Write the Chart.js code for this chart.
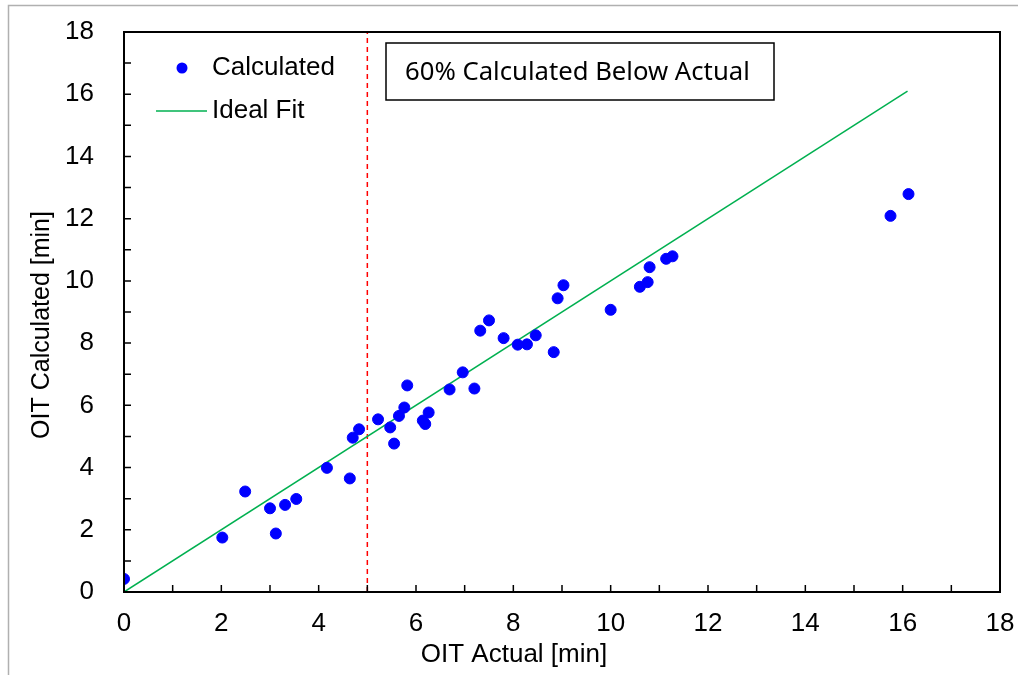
<!DOCTYPE html>
<html>
<head>
<meta charset="utf-8">
<script src="https://cdn.jsdelivr.net/npm/chart.js@4.4.1/dist/chart.umd.min.js"></script>
<style>
body{margin:0;background:#fff;}
#wrap{position:relative;width:1018px;height:675px;}
</style>
</head>
<body>
<div id="wrap"><canvas id="oitChart" width="1018" height="675"></canvas></div>
<script>
// OIT calculated vs actual

const actualMin = [0, 2.02, 2.49, 3.0, 3.12, 3.31, 3.54, 4.17, 4.64, 4.70, 4.83, 5.22, 5.47, 5.55, 5.65, 5.76, 5.82, 6.14, 6.19, 6.26, 6.69, 6.96, 7.20, 7.32, 7.50, 7.80, 8.09, 8.28, 8.46, 8.83, 8.91, 9.03, 10.0, 10.60, 10.76, 10.80, 11.14, 11.27, 15.75, 16.12];
const calculatedMin = [0.42, 1.75, 3.23, 2.69, 1.88, 2.80, 2.99, 3.99, 3.65, 4.96, 5.23, 5.55, 5.29, 4.77, 5.66, 5.93, 6.64, 5.51, 5.40, 5.77, 6.51, 7.06, 6.54, 8.40, 8.73, 8.16, 7.95, 7.96, 8.25, 7.71, 9.44, 9.86, 9.07, 9.81, 9.96, 10.44, 10.71, 10.79, 12.09, 12.79];

const fitX = [0, 16.1];
const fitY = [0, 16.1];

const cutoffX = [5, 5];
const cutoffY = [0, 18];

const axisTicks = [0, 2, 4, 6, 8, 10, 12, 14, 16, 18];
const minorTicks = [1, 3, 5, 7, 9, 11, 13, 15, 17];

const legendLabels = ["Calculated", "Ideal Fit"];
const noteText = "60% Calculated Below Actual";
const xTitle = "OIT Actual [min]";
const yTitle = "OIT Calculated [min]";

const FONT = "'Liberation Sans', Arial, sans-serif";

function pairs(xs, ys){
  return xs.map((x,i)=>({x:x, y:ys[i]}));
}

// ticks inside the plot, frame, legend, note box and axis titles
const decor = {
  id:"decor",
  afterDraw(chart){
    const ctx = chart.ctx;
    const a = chart.chartArea;
    const xs = chart.scales.x, ys = chart.scales.y;
    ctx.save();

    // outer chart border (grey)
    ctx.strokeStyle = "#b0b0b0";
    ctx.lineWidth = 1.5;
    ctx.strokeRect(8.5, 5.5, 1040, 700);

    // plot frame
    ctx.strokeStyle = "#000";
    ctx.lineWidth = 2;
    ctx.strokeRect(a.left, a.top, a.right-a.left, a.bottom-a.top);

    // inward tick marks
    ctx.lineWidth = 1.5;
    axisTicks.concat(minorTicks).forEach(v=>{
      const px = xs.getPixelForValue(v);
      const py = ys.getPixelForValue(v);
      ctx.beginPath();
      ctx.moveTo(px, a.bottom); ctx.lineTo(px, a.bottom-7);
      ctx.moveTo(a.left, py); ctx.lineTo(a.left+7, py);
      ctx.stroke();
    });

    // legend
    const dsPts = chart.data.datasets[0];
    const dsFit = chart.data.datasets[1];
    ctx.fillStyle = dsPts.backgroundColor;
    ctx.beginPath(); ctx.arc(182, 68, 5.5, 0, Math.PI*2); ctx.fill();
    ctx.strokeStyle = dsFit.borderColor;
    ctx.lineWidth = dsFit.borderWidth;
    ctx.beginPath(); ctx.moveTo(156, 111); ctx.lineTo(207, 111); ctx.stroke();
    ctx.fillStyle = "#000";
    ctx.font = "26px " + FONT;
    ctx.textBaseline = "middle";
    ctx.textAlign = "left";
    ctx.fillText(legendLabels[0], 212, 68);
    ctx.fillText(legendLabels[1], 212, 111);

    // note box
    ctx.fillStyle = "#fff";
    ctx.fillRect(386, 43, 388, 57);
    ctx.strokeStyle = "#000";
    ctx.lineWidth = 1.5;
    ctx.strokeRect(386, 43, 388, 57);
    ctx.fillStyle = "#000";
    ctx.font = "22px 'Noto Sans', 'Open Sans', sans-serif";
    const w = ctx.measureText(noteText).width;
    const size = 22 * 345 / w;
    ctx.font = size.toFixed(1) + "px 'Noto Sans', 'Open Sans', sans-serif";
    ctx.textAlign = "left";
    ctx.fillText(noteText, 405, 73);

    // axis titles
    ctx.font = "26px " + FONT;
    ctx.textAlign = "center";
    ctx.fillText(xTitle, 514, 655);
    ctx.font = "25px " + FONT;
    ctx.translate(42, 325);
    ctx.rotate(-Math.PI/2);
    ctx.fillText(yTitle, 0, 0);

    ctx.restore();
  }
};

new Chart(document.getElementById("oitChart"),{
  type:"scatter",
  data:{
    datasets:[
      {
        label:legendLabels[0],
        data:pairs(actualMin, calculatedMin),
        backgroundColor:"#0000FF",
        borderColor:"#0000FF",
        pointRadius:5.5,
        pointHoverRadius:5.5,
        order:1
      },
      {
        label:legendLabels[1],
        data:pairs(fitX, fitY),
        showLine:true,
        borderColor:"#00B050",
        borderWidth:1.5,
        pointRadius:0,
        order:2
      },
      {
        label:"cutoff",
        data:pairs(cutoffX, cutoffY),
        showLine:true,
        borderColor:"#FF0000",
        borderWidth:1.5,
        borderDash:[5,4],
        pointRadius:0,
        order:3
      }
    ]
  },
  options:{
    responsive:false,
    animation:false,
    devicePixelRatio:1,
    layout:{padding:{top:32, right:18, left:0, bottom:0}},
    plugins:{
      legend:{display:false},
      tooltip:{enabled:false}
    },
    scales:{
      x:{
        type:"linear",
        min:0, max:18,
        afterFit(s){ s.height = 83; s.paddingLeft = 0; s.paddingRight = 0; },
        afterBuildTicks(s){ s.ticks = axisTicks.map(v=>({value:v})); },
        grid:{display:false},
        border:{display:false},
        ticks:{color:"#000", padding:8, font:{family:FONT, size:26}, maxRotation:0}
      },
      y:{
        type:"linear",
        min:0, max:18,
        afterFit(s){ s.width = 124; s.paddingTop = 0; s.paddingBottom = 0; },
        afterBuildTicks(s){ s.ticks = axisTicks.map(v=>({value:v})); },
        grid:{display:false},
        border:{display:false},
        ticks:{color:"#000", padding:22, font:{family:FONT, size:26}}
      }
    }
  },
  plugins:[decor]
});
</script>
</body>
</html>
